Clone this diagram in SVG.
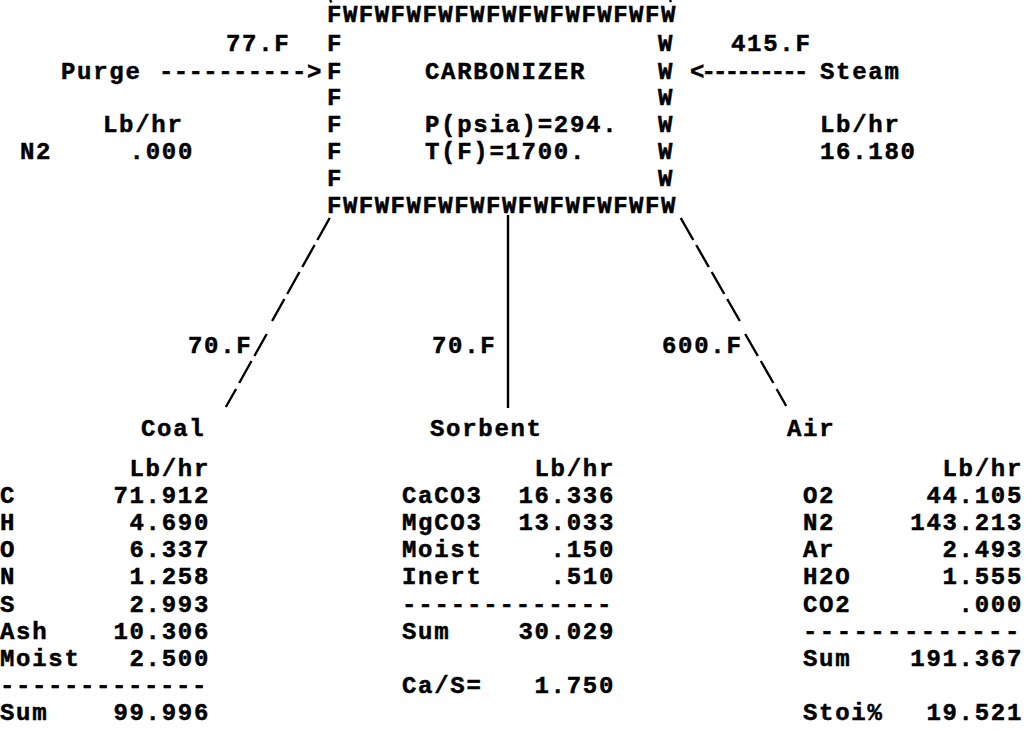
<svg xmlns="http://www.w3.org/2000/svg" width="1029" height="731" viewBox="0 0 1029 731">
<style>
.t{font-family:"Liberation Mono","Courier New",monospace;font-weight:bold;font-size:24px;letter-spacing:1.7px;fill:#000;stroke:#000;stroke-width:0.5;white-space:pre}
.e{text-anchor:end}
.ln{stroke:#000;stroke-width:2.4;fill:none;stroke-linecap:butt}
</style>
<rect width="1029" height="731" fill="#fff"/>
<g id="carbonizer" class="t">
<text x="327" y="22" textLength="350">FWFWFWFWFWFWFWFWFWFWFW</text>
<text x="327" y="51">F</text><text x="658" y="51">W</text>
<text x="327" y="79">F</text><text x="658" y="79">W</text>
<text x="327" y="104.5">F</text><text x="658" y="104.5">W</text>
<text x="327" y="131.5">F</text><text x="658" y="131.5">W</text>
<text x="327" y="158.5">F</text><text x="658" y="158.5">W</text>
<text x="327" y="185.5">F</text><text x="658" y="185.5">W</text>
<text x="327" y="212.8" textLength="350">FWFWFWFWFWFWFWFWFWFWFW</text>
<text x="425" y="79">CARBONIZER</text>
<text x="425" y="131.5">P(psia)=294.</text>
<text x="425" y="158.5">T(F)=1700.</text>
</g>
<g id="purge" class="t">
<text x="61" y="79">Purge</text>
<text x="103" y="131.5">Lb/hr</text>
<text x="20" y="158.5">N2</text>
<text x="194" y="158.5" class="e">.000</text>
</g>
<g id="steam" class="t">
<text x="820" y="79">Steam</text>
<text x="820" y="131.5">Lb/hr</text>
<text x="820" y="158.5">16.180</text>
</g>
<g id="coal" class="t">
<text x="141" y="436">Coal</text>
<text x="210" y="476" class="e">Lb/hr</text>
<text x="0" y="503">C</text><text x="210" y="503" class="e">71.912</text>
<text x="0" y="530">H</text><text x="210" y="530" class="e">4.690</text>
<text x="0" y="557">O</text><text x="210" y="557" class="e">6.337</text>
<text x="0" y="584">N</text><text x="210" y="584" class="e">1.258</text>
<text x="0" y="612">S</text><text x="210" y="612" class="e">2.993</text>
<text x="0" y="639">Ash</text><text x="210" y="639" class="e">10.306</text>
<text x="0" y="666">Moist</text><text x="210" y="666" class="e">2.500</text>
<text x="0" y="693" textLength="208">-------------</text>
<text x="0" y="720">Sum</text><text x="210" y="720" class="e">99.996</text>
</g>
<g id="sorbent" class="t">
<text x="430" y="436">Sorbent</text>
<text x="615" y="476" class="e">Lb/hr</text>
<text x="402" y="503">CaCO3</text><text x="615" y="503" class="e">16.336</text>
<text x="402" y="530">MgCO3</text><text x="615" y="530" class="e">13.033</text>
<text x="402" y="557">Moist</text><text x="615" y="557" class="e">.150</text>
<text x="402" y="584">Inert</text><text x="615" y="584" class="e">.510</text>
<text x="402" y="612" textLength="211">-------------</text>
<text x="402" y="639">Sum</text><text x="615" y="639" class="e">30.029</text>
<text x="402" y="693">Ca/S=</text><text x="615" y="693" class="e">1.750</text>
</g>
<g id="air" class="t">
<text x="787" y="436">Air</text>
<text x="1023" y="476" class="e">Lb/hr</text>
<text x="803" y="503">O2</text><text x="1023" y="503" class="e">44.105</text>
<text x="803" y="530">N2</text><text x="1023" y="530" class="e">143.213</text>
<text x="803" y="557">Ar</text><text x="1023" y="557" class="e">2.493</text>
<text x="803" y="584">H2O</text><text x="1023" y="584" class="e">1.555</text>
<text x="803" y="612">CO2</text><text x="1023" y="612" class="e">.000</text>
<text x="803" y="639" textLength="218">-------------</text>
<text x="803" y="666">Sum</text><text x="1023" y="666" class="e">191.367</text>
<text x="803" y="720">Stoi%</text><text x="1023" y="720" class="e">19.521</text>
</g>
<g id="connectors">
<g class="t">
<text x="159" y="79" textLength="164">----------&gt;</text>
<text x="690" y="79" textLength="120">&lt;---------</text>
<text x="226" y="51">77.F</text>
<text x="731" y="51">415.F</text>
<text x="188" y="353">70.F</text>
<text x="432" y="353">70.F</text>
<text x="662" y="353">600.F</text>
</g>
<path class="ln" d="M329.7 218 L317.4 240 M314.6 245 L302.3 267 M299.5 272 L287.2 294 M284.4 299 L272.1 321 M266.7 334 L254.4 356 M251.5 361 L239.2 383 M236.1 389 L225.8 407"/>
<line class="ln" x1="508" y1="215" x2="508" y2="408"/>
<path class="ln" d="M680.7 218 L693.3 240 M696.2 245 L708.8 267 M711.7 272 L724.3 294 M727.2 299 L739.8 321 M745.2 334 L757.9 356 M760.8 361 L773.4 383 M776.6 389 L786.2 406"/>
<path class="ln" d="M330 0 L331.5 2.5 M670 0 L671 2"/>
</g>
</svg>
